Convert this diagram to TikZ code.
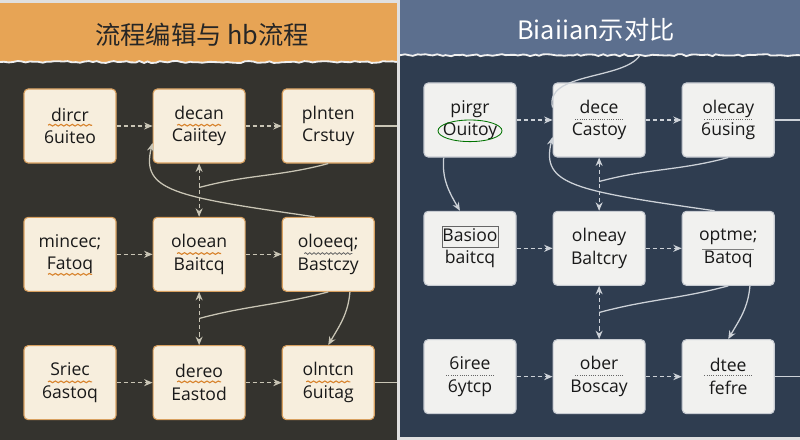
\documentclass[tikz,border=0pt]{standalone}
\usepackage{fontspec}
\setmainfont{Open Sans}
\newfontfamily\cjk{Noto Sans CJK SC}
\usepackage{tikz}
\usetikzlibrary{arrows.meta, positioning, calc, decorations.pathmorphing}

\definecolor{lhead}{HTML}{E7A455}
\definecolor{lbody}{HTML}{34332E}
\definecolor{lboxfill}{HTML}{F7EEDD}
\definecolor{lboxline}{HTML}{D9A160}
\definecolor{lline}{HTML}{C9C5B5}
\definecolor{lmark}{HTML}{D8842E}
\definecolor{rhead}{HTML}{5C6F8E}
\definecolor{rbody}{HTML}{2F3D50}
\definecolor{rboxfill}{HTML}{F1F1EF}
\definecolor{rboxline}{HTML}{C8CCD2}
\definecolor{rline}{HTML}{CDD2D8}

\begin{document}
\begin{tikzpicture}[
    node distance=1.33cm and 0.9cm,
    every node/.style={font=\fontsize{12.5}{16}\selectfont},
    lbox/.style={rectangle, rounded corners=3pt, draw=lboxline, line width=0.8pt, fill=lboxfill, minimum width=2.3cm, minimum height=1.85cm, align=center, text=black!90},
    rbox/.style={rectangle, rounded corners=3pt, draw=rboxline, line width=0.8pt, fill=rboxfill, minimum width=2.3cm, minimum height=1.85cm, align=center, text=black!90},
    larrow/.style={->, >={Stealth[length=6pt, width=5pt]}, draw=lline, densely dashed, line width=0.8pt},
    rarrow/.style={->, >={Stealth[length=6pt, width=5pt]}, draw=rline, densely dashed, line width=0.8pt},
    lcurve/.style={>={Stealth[length=6pt, width=5pt]}, draw=lline, line width=0.9pt},
    rcurve/.style={>={Stealth[length=6pt, width=5pt]}, draw=rline, line width=0.9pt},
    tear/.style={draw=white!88!gray, line width=1.3pt, decorate, decoration={random steps, segment length=3pt, amplitude=0.7pt}},
    lscribble/.style={draw=lmark, line width=0.8pt, decorate, decoration={snake, segment length=4pt, amplitude=0.6pt}},
    rscribble/.style={draw=black!60, line width=0.6pt, densely dotted}
]
\pgfmathsetseed{7}
\useasboundingbox (0,0) rectangle (20,-11);

% --- Panels ---
\fill[black!12] (0,0) rectangle (20,-11);
\fill[lbody] (0,-0.08) rectangle (9.92,-11);
\fill[lhead] (0,-0.08) rectangle (9.92,-1.55);
\draw[tear] (0,-1.55) -- (9.92,-1.55);
\fill[rbody] (10,0) rectangle (20,-10.93);
\fill[rhead] (10,0) rectangle (20,-1.38);
\draw[tear] (10,-1.38) -- (20,-1.38);

\node[font=\cjk\fontsize{18}{20}\selectfont, text=black!85] (ltitle) at (5.05,-0.88) {流程编辑与 hb流程};
\node[font=\cjk\fontsize{18}{20}\selectfont, text=white] (rtitle) at (14.9,-0.75) {Biaiian示对比};

% --- Left flow ---
\node[lbox] (l11) at (1.75,-3.15) {dircr\\6uiteo};
\node[lbox, right=of l11] (l12) {decan\\Caiitey};
\node[lbox, right=of l12] (l13) {plnten\\Crstuy};
\node[lbox, below=of l11] (l21) {mincec;\\Fatoq};
\node[lbox, below=of l12] (l22) {oloean\\Baitcq};
\node[lbox, below=of l13] (l23) {oloeeq;\\Bastczy};
\node[lbox, below=of l21] (l31) {Sriec\\6astoq};
\node[lbox, below=of l22] (l32) {dereo\\Eastod};
\node[lbox, below=of l23] (l33) {olntcn\\6uitag};

\coordinate (ledge) at (9.92,0);
\coordinate (lm1) at ($(l12.south)!0.45!(l22.north)$);
\coordinate (lm2) at ($(l22.south)!0.5!(l32.north)$);

\draw[larrow] (l11) -- (l12);
\draw[larrow] (l12) -- (l13);
\draw[larrow] (l21) -- (l22);
\draw[larrow] (l22) -- (l23);
\draw[larrow] (l31) -- (l32);
\draw[larrow] (l32) -- (l33);
\draw[lcurve] (l13.east) -- (l13.east -| ledge);
\draw[lcurve] (l33.east) -- (l33.east -| ledge);
\draw[larrow, <->] (l12) -- (l22);
\draw[larrow, <->] (l22) -- (l32);
\draw[lcurve] (l13.south) to[out=-165, in=15] (lm1);
\draw[lcurve] (l23.south) to[out=-165, in=15] (lm2);
\draw[lcurve, ->] (l23.110) .. controls +(-3.5,0.5) and +(-0.3,-1.2) .. (l12.200);
\draw[lcurve, ->] (l23.-60) to[out=-95, in=60] (l33.north);

\foreach \b in {l11,l12,l22,l31,l32,l33}
    \draw[lscribble] ($(\b.center)+(-0.55,0.02)$) -- ++(1.1,0);
\draw[lscribble] ($(l21.center)+(-0.55,-0.5)$) -- ++(1.1,0);
\draw[draw=black!60, line width=0.6pt, decorate, decoration={snake, segment length=3pt, amplitude=0.6pt}] ($(l23.center)+(-0.6,0.02)$) -- ++(1.2,0);

% --- Right flow ---
\node[rbox] (r11) at (11.75,-3.0) {pirgr\\Ouitoy};
\node[rbox, right=of r11] (r12) {dece\\Castoy};
\node[rbox, right=of r12] (r13) {olecay\\6using};
\node[rbox, below=of r11] (r21) {Basioo\\baitcq};
\node[rbox, below=of r12] (r22) {olneay\\Baltcry};
\node[rbox, below=of r13] (r23) {optme;\\Batoq};
\node[rbox, below=of r21] (r31) {6iree\\6ytcp};
\node[rbox, below=of r22] (r32) {ober\\Boscay};
\node[rbox, below=of r23] (r33) {dtee\\fefre};

\coordinate (redge) at (20,0);
\coordinate (rtop) at (16,-1.38);
\coordinate (rm1) at ($(r12.south)!0.45!(r22.north)$);
\coordinate (rm2) at ($(r22.south)!0.5!(r32.north)$);

\draw[rarrow] (r11) -- (r12);
\draw[rarrow] (r12) -- (r13);
\draw[rarrow] (r21) -- (r22);
\draw[rarrow] (r22) -- (r23);
\draw[rarrow] (r31) -- (r32);
\draw[rarrow] (r32) -- (r33);
\draw[rcurve] (r13.east) -- (r13.east -| redge);
\draw[rcurve] (r33.east) -- (r33.east -| redge);
\draw[rarrow, <->] (r12) -- (r22);
\draw[rarrow, <->] (r22) -- (r32);
\draw[rcurve] (r13.south) to[out=-165, in=15] (rm1);
\draw[rcurve] (r23.south) to[out=-165, in=15] (rm2);
\draw[rcurve, ->] (r23.110) .. controls +(-3.5,0.5) and +(-0.3,-1.2) .. (r12.200);
\draw[rcurve, ->] (r23.-60) to[out=-95, in=60] (r33.north);
\draw[rcurve, ->] (r11.-125) to[out=-95, in=120] (r21.105);
\draw[rcurve] (rtop) .. controls (15.6,-2.0) and (13.6,-1.8) .. (r12.165);

\foreach \b in {r12,r13,r31,r32,r33}
    \draw[rscribble] ($(\b.center)+(-0.6,0.02)$) -- ++(1.2,0);
\draw[draw=green!45!black, line width=0.6pt] ($(r11.center)+(0,-0.27)$) ellipse (0.8cm and 0.27cm);
\draw[draw=black!60, line width=0.6pt] ($(r21.center)+(-0.7,0.02)$) rectangle ++(1.4,0.52);
\draw[draw=black!50, line width=0.6pt] ($(r23.center)+(-0.65,-0.02)$) -- ++(1.3,0);
\end{tikzpicture}
\end{document}
